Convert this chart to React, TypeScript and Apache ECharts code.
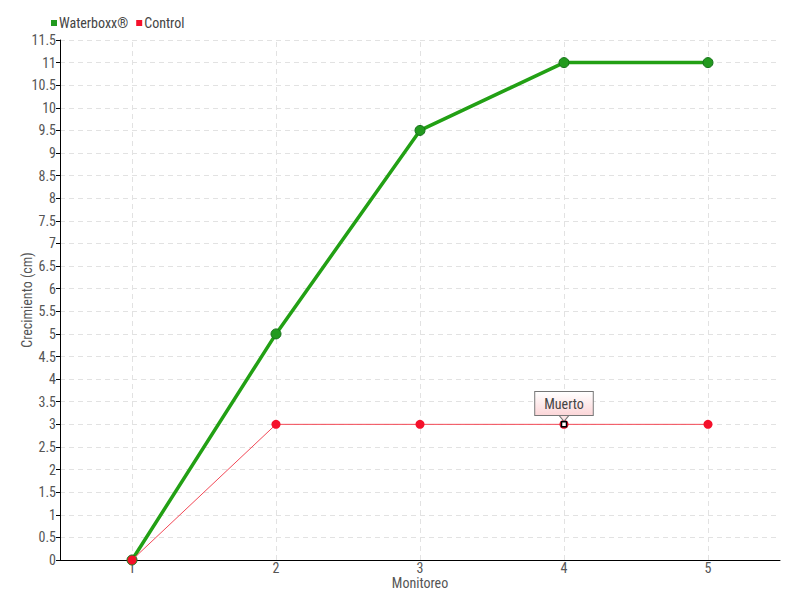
import React, { useEffect, useRef } from "react";
import * as echarts from "echarts";

const categories = ["1", "2", "3", "4", "5"];
const waterboxx = [0, 5, 9.5, 11, 11];
const control = [0, 3, 3, 3, 3];
const deadIndex = 3;
const deadLabel = "Muerto";
const yTicks = { min: 0, max: 11.5, interval: 0.5 };

const FONT = "'Liberation Sans Narrow', 'Roboto Condensed', 'Roboto', sans-serif";

export default function App() {
  const ref = useRef<HTMLDivElement>(null);
  useEffect(() => {
    if (!ref.current) return;
    const chart = echarts.init(ref.current, undefined, { renderer: "svg" });
    const deadCoord = [categories[deadIndex], control[deadIndex]];
    chart.setOption({
      animation: false,
      textStyle: { fontFamily: FONT },
      legend: {
        left: 46,
        top: 11,
        icon: "rect",
        itemWidth: 6,
        itemHeight: 6,
        itemGap: 8,
        itemStyle: { borderWidth: 0 },
        textStyle: { fontFamily: FONT, fontSize: 14, color: "#444", padding: [0, 0, 0, -3] },
        data: ["Waterboxx®", "Control"],
      },
      grid: { left: 60, right: 20, top: 40, bottom: 40, outerBoundsMode: "none" },
      xAxis: {
        type: "category",
        data: categories,
        boundaryGap: true,
        name: "Monitoreo",
        nameLocation: "middle",
        nameGap: 16,
        nameMoveOverlap: false,
        nameTextStyle: { fontFamily: FONT, fontSize: 14, color: "#555" },
        axisLine: { lineStyle: { color: "#000", width: 1 } },
        axisTick: { alignWithLabel: true, length: 4, lineStyle: { color: "#000" } },
        axisLabel: { fontFamily: FONT, fontSize: 14, color: "#555", margin: 1 },
        splitLine: { show: false },
      },
      yAxis: {
        type: "value",
        min: yTicks.min,
        max: yTicks.max,
        interval: yTicks.interval,
        name: "Crecimiento (cm)",
        nameLocation: "middle",
        nameGap: 26,
        nameMoveOverlap: false,
        nameRotate: 90,
        nameTextStyle: { fontFamily: FONT, fontSize: 14, color: "#555" },
        axisLine: { show: true, lineStyle: { color: "#000", width: 1 } },
        axisTick: { show: true, length: 4, lineStyle: { color: "#000" } },
        axisLabel: { fontFamily: FONT, fontSize: 14, color: "#555", margin: 4 },
        splitLine: { show: true, lineStyle: { color: "#e2e2e2", type: [5, 4] } },
      },
      series: [
        {
          name: "grid-x",
          type: "line",
          data: [],
          silent: true,
          z: 0,
          markLine: {
            silent: true,
            z: 0,
            symbol: "none",
            label: { show: false },
            lineStyle: { color: "#e2e2e2", type: [5, 4], width: 1 },
            data: categories.map((c) => ({ xAxis: c })),
          },
        },
        {
          name: "Waterboxx®",
          type: "line",
          data: waterboxx,
          color: "#1e9a14",
          symbol: "circle",
          symbolSize: 10,
          lineStyle: { width: 3.5, color: "#22a014" },
          itemStyle: { color: "#229a1e", borderColor: "#16701a", borderWidth: 1 },
          z: 2,
        },
        {
          name: "Control",
          type: "line",
          data: control,
          color: "#f5102a",
          symbol: "circle",
          symbolSize: 9,
          lineStyle: { width: 1, color: "#f24856" },
          itemStyle: { color: "#f5102a" },
          z: 3,
          markPoint: {
            silent: true,
            z: 6,
            data: [
              {
                coord: deadCoord,
                symbol: "path://M0,0 L5,6 L10,0 Z",
                symbolSize: [10, 6],
                symbolOffset: [0, -6],
                itemStyle: { color: "#fde4e5", borderColor: "#777", borderWidth: 1 },
                label: { show: false },
              },
              {
                coord: deadCoord,
                symbol: "rect",
                symbolSize: 5,
                itemStyle: { color: "#ffffff", borderColor: "#000000", borderWidth: 1.5 },
                label: {
                  show: true,
                  position: "top",
                  distance: 6,
                  formatter: deadLabel,
                  fontFamily: FONT,
                  fontSize: 14,
                  color: "#444",
                  padding: [5, 9, 4, 9],
                  borderColor: "#777",
                  borderWidth: 1,
                  backgroundColor: new echarts.graphic.LinearGradient(0, 0, 0, 1, [
                    { offset: 0, color: "#ffffff" },
                    { offset: 1, color: "#fcd6d8" },
                  ]),
                },
              },
            ],
          },
        },
      ],
    });
    return () => chart.dispose();
  }, []);
  return <div ref={ref} style={{ width: 800, height: 600, position: "absolute", left: 0, top: 0 }} />;
}
